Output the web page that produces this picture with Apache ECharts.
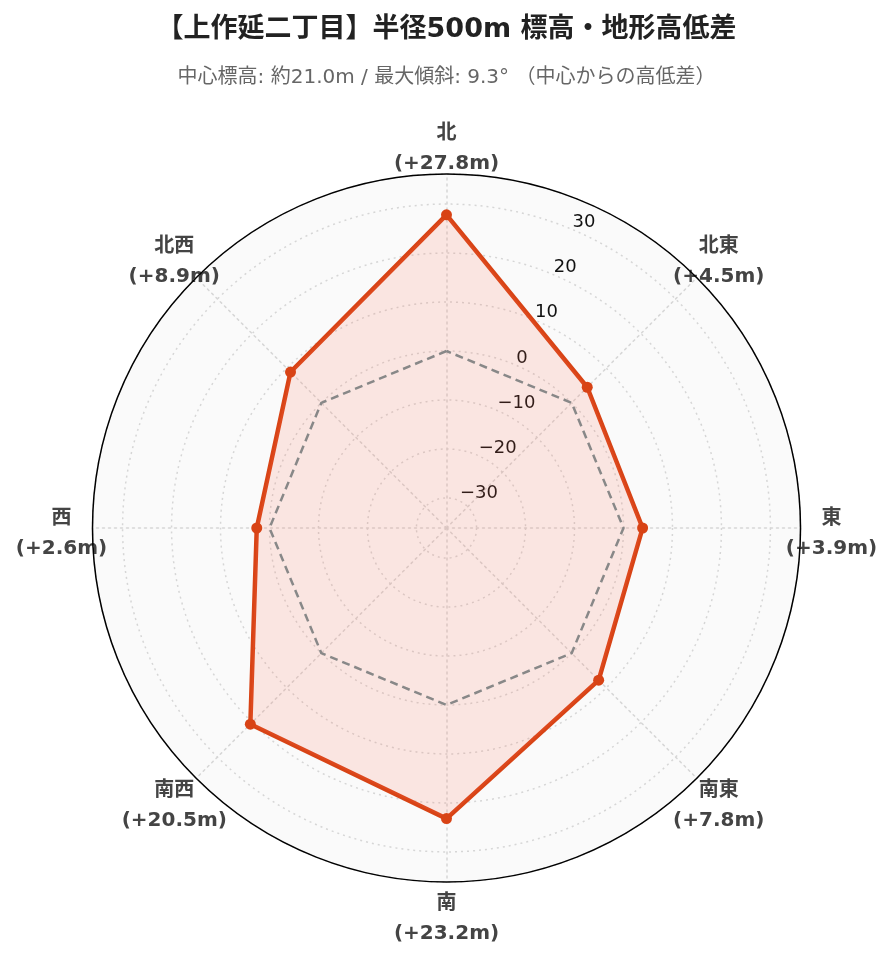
<!DOCTYPE html>
<html>
<head>
<meta charset="utf-8">
<script src="https://cdn.jsdelivr.net/npm/echarts@6/dist/echarts.min.js"></script>
<style>
html,body{margin:0;padding:0;background:#fff;}
#chart{width:893px;height:962px;}
</style>
</head>
<body>
<div id="chart"></div>
<script>
// ---- data ----
const titleText = '【上作延二丁目】半径500m 標高・地形高低差';
const subText = '中心標高: 約21.0m / 最大傾斜: 9.3° （中心からの高低差）';
// directions listed counter-clockwise from north (radar order)
const directions = ['北', '北西', '西', '南西', '南', '南東', '東', '北東'];
const elevationDiff = [27.8, 8.9, 2.6, 20.5, 23.2, 7.8, 3.9, 4.5];
const baseline = [0, 0, 0, 0, 0, 0, 0, 0];
const radialMin = -36.14;
const radialMax = 36.14;

const FONT = "'DejaVu Sans', 'Noto Sans CJK JP', sans-serif";
const CENTER = [446.5, 528];
const RADIUS = 354;

const chart = echarts.init(document.getElementById('chart'));

const indicators = directions.map((d, i) => ({
  name: '{a|' + d + '}\n{b|(+' + elevationDiff[i].toFixed(1) + 'm)}',
  min: radialMin,
  max: radialMax
}));

const nameFont = { fontFamily: FONT, fontSize: 20, fontWeight: 'bold', color: '#444', align: 'center' };

chart.setOption({
  backgroundColor: '#ffffff',
  animation: false,
  title: {
    text: titleText,
    subtext: subText,
    left: 'center',
    top: 11,
    itemGap: 25,
    textStyle: { fontFamily: FONT, fontSize: 27, fontWeight: 'bold', color: '#222' },
    subtextStyle: { fontFamily: FONT, fontSize: 20, color: '#666' }
  },
  polar: {
    center: CENTER,
    radius: RADIUS
  },
  angleAxis: {
    type: 'value',
    min: 0,
    max: 360,
    startAngle: 67.5,
    z: 3,
    axisLine: { show: true, lineStyle: { color: '#000', width: 1.5 } },
    axisTick: { show: false },
    axisLabel: { show: false },
    splitLine: { show: false },
    splitArea: { show: false }
  },
  radiusAxis: {
    type: 'value',
    min: radialMin,
    max: radialMax,
    splitNumber: 7,
    z: 1,
    axisLine: { show: false },
    axisTick: { show: false },
    axisLabel: {
      show: true,
      showMinLabel: false,
      showMaxLabel: false,
      fontFamily: FONT,
      fontSize: 18,
      lineHeight: 13,
      color: '#111',
      margin: 0,
      align: 'left',
      verticalAlign: 'bottom',
      padding: [0, 0, 0, 2],
      formatter: v => (v < 0 ? '\u2212' + Math.abs(v) : String(v))
    },
    splitLine: { show: true, lineStyle: { color: '#d6d6d6', type: [2, 4], width: 1.5 } },
    splitArea: { show: false }
  },
  radar: {
    z: 0,
    center: CENTER,
    radius: RADIUS,
    startAngle: 90,
    shape: 'circle',
    indicator: indicators,
    nameGap: 31,
    axisName: {
      fontFamily: FONT,
      fontSize: 20,
      fontWeight: 'bold',
      color: '#444',
      align: 'center',
      verticalAlign: 'middle',
      rich: {
        a: Object.assign({ lineHeight: 42 }, nameFont),
        b: Object.assign({ lineHeight: 18 }, nameFont)
      }
    },
    splitLine: { show: false },
    splitArea: { show: true, areaStyle: { color: ['#fafafa'] } },
    axisLine: { show: true, lineStyle: { color: '#d6d6d6', type: [2, 4], width: 1.5 } },
    axisTick: { show: false },
    axisLabel: { show: false }
  },
  series: [
    {
      type: 'radar',
      z: 5,
      data: [{
        value: elevationDiff,
        name: '高低差',
        symbol: 'circle',
        symbolSize: 11,
        lineStyle: { color: '#d84315', width: 4.5 },
        itemStyle: { color: '#d84315' },
        areaStyle: { color: 'rgba(252, 105, 75, 0.2)' }
      }]
    },
    {
      type: 'radar',
      z: 6,
      data: [{
        value: baseline,
        name: '中心標高',
        symbol: 'none',
        lineStyle: { color: '#888', width: 2.5, type: [8, 5] }
      }]
    }
  ]
});
</script>
</body>
</html>
